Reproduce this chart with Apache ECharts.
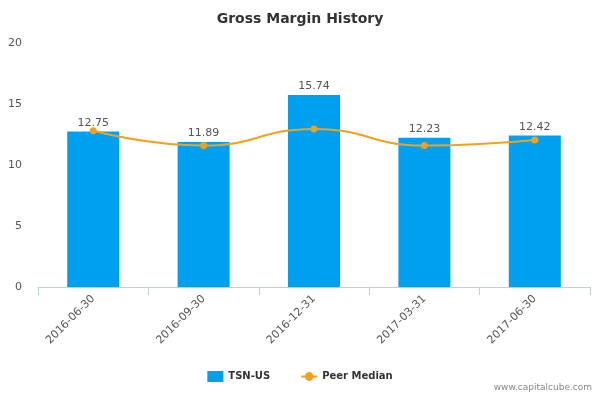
<!DOCTYPE html>
<html><head><meta charset="utf-8">
<script src="https://cdn.jsdelivr.net/npm/echarts@6/dist/echarts.min.js"></script>
<style>html,body{margin:0;padding:0}#c{width:600px;height:400px}</style>
</head><body><div id="c"></div>
<script>
const categories = ['2016-06-30','2016-09-30','2016-12-31','2017-03-31','2017-06-30'];
const tsnValues = [12.75, 11.89, 15.74, 12.23, 12.42];
const peerMedian = [12.8, 11.6, 12.95, 11.6, 12.05];
const chart = echarts.init(document.getElementById('c'));
chart.setOption({
  animation: false,
  title: { text: 'Gross Margin History', left: 'center', top: 7,
    textStyle: { fontFamily: 'DejaVu Sans', fontSize: 14, fontWeight: 'bold', color: '#333' } },
  grid: { left: 38, right: 10, top: 43, bottom: 113 },
  legend: { bottom: 13, left: 'center', itemGap: 30, itemWidth: 16, itemHeight: 11,
    textStyle: { fontFamily: 'DejaVu Sans', fontSize: 10, fontWeight: 'bold', color: '#333' },
    data: [{ name: 'TSN-US', icon: 'rect' }, { name: 'Peer Median' }] },
  graphic: [{ type: 'text', right: 8, bottom: 8,
    style: { text: 'www.capitalcube.com', fill: '#888', font: '9px DejaVu Sans' } }],
  xAxis: { type: 'category', data: categories,
    axisLine: { lineStyle: { color: '#c0cfe0' } },
    axisTick: { show: true, lineStyle: { color: '#c0cfe0' }, length: 8 },
    axisLabel: { rotate: 45, color: '#555', fontFamily: 'DejaVu Sans', fontSize: 11, margin: 10 } },
  yAxis: { type: 'value', min: 0, max: 20, interval: 5,
    splitLine: { show: false }, axisLine: { show: false }, axisTick: { show: false },
    axisLabel: { color: '#555', fontFamily: 'DejaVu Sans', fontSize: 11, margin: 16 } },
  series: [
    { name: 'TSN-US', type: 'bar', data: tsnValues, barWidth: 52,
      itemStyle: { color: '#00a0f0' },
      label: { show: true, position: 'top', distance: 3, color: '#555', fontFamily: 'DejaVu Sans', fontSize: 11,
        formatter: p => p.value.toFixed(2) } },
    { name: 'Peer Median', type: 'line', data: peerMedian, smooth: true,
      symbol: 'circle', symbolSize: 7,
      lineStyle: { color: '#f5a01a', width: 2 }, itemStyle: { color: '#f5a01a' } }
  ]
});
</script></body></html>
